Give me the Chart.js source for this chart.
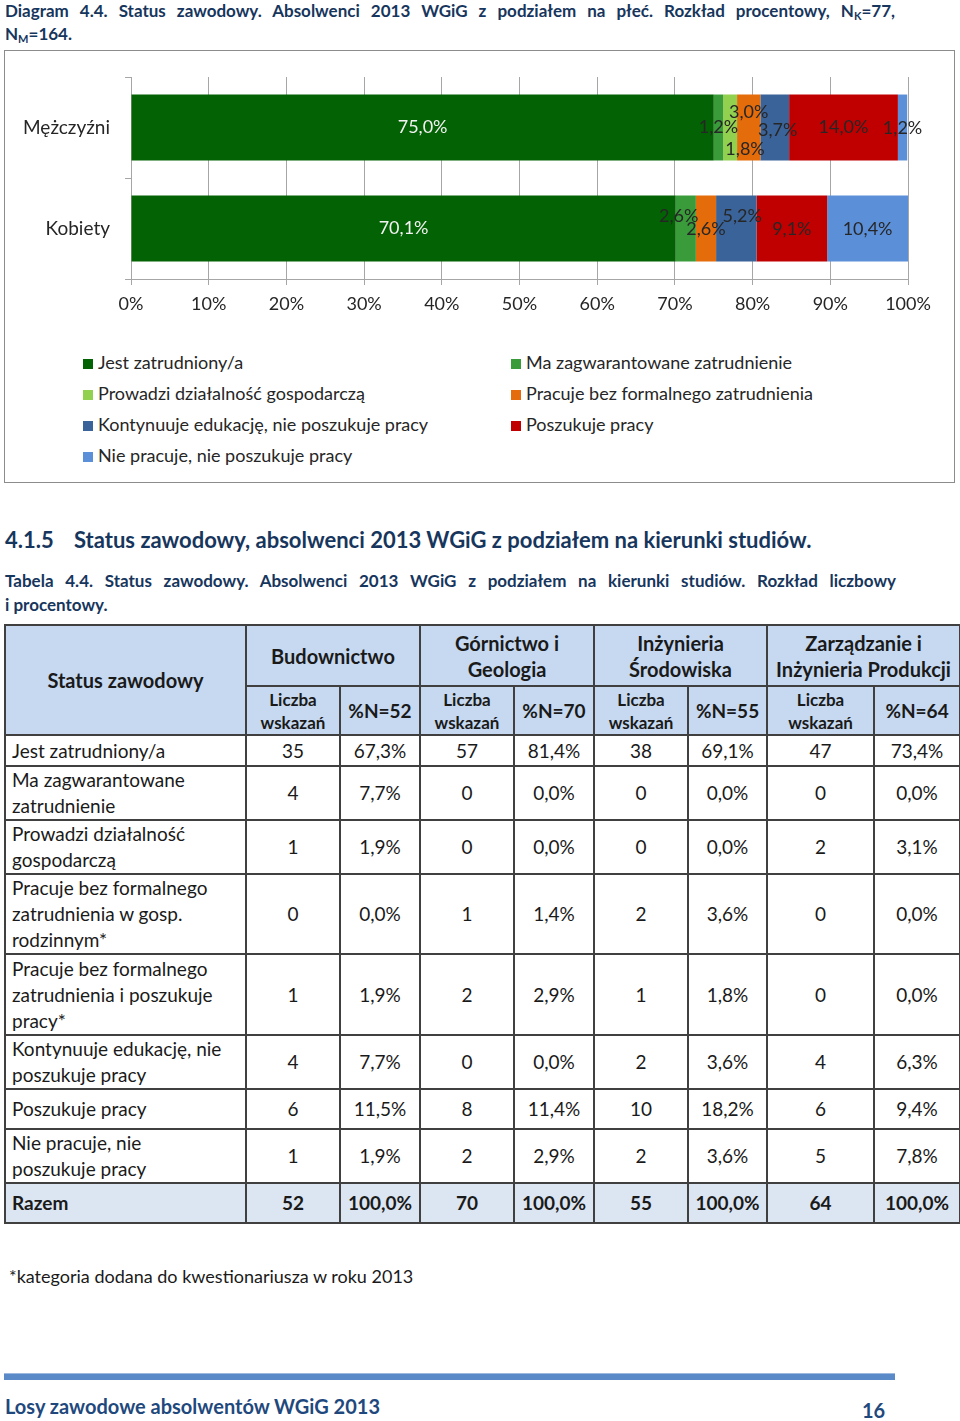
<!DOCTYPE html>
<html lang="pl">
<head>
<meta charset="utf-8">
<script src="https://cdn.jsdelivr.net/npm/chart.js@4.4.1/dist/chart.umd.min.js"></script>
<style>
  body { margin: 0; width: 960px; height: 1421px; position: relative; background: #fff; font-family: Lato, "Open Sans", sans-serif; color: #1a1a1a; overflow: hidden; }
  .abs { position: absolute; }
  .navy { color: #17365D; font-weight: bold; }
  .just { text-align: justify; text-align-last: justify; }
  sub { font-size: 11px; vertical-align: -3px; line-height: 0; }
  #chartBox { left: 4px; top: 50px; width: 949px; height: 431px; border: 1px solid #8C8C8C; }
  #chart { left: 0; top: 50px; }
  #legend { left: 83px; top: 347px; display: grid; grid-template-columns: 428px auto; font-size: 18px; color: #262626; }
  #legend div { height: 31px; line-height: 31px; white-space: nowrap; }
  #legend span.box { display: inline-block; width: 10px; height: 10px; margin-right: 5px; vertical-align: 0px; }
  table { border-collapse: collapse; table-layout: fixed; font-size: 19px; }
  td, th { border: 2px solid #404040; padding: 0 6px; text-align: center; line-height: 26px; }
  th { background: #C6D9F1; font-weight: bold; }
  td.name { text-align: left; }
  tr.sum td { background: #DCE6F2; font-weight: bold; }
  th.small { font-size: 17px; line-height: 23px; padding: 0 2px; }
</style>
</head>
<body>
<div class="abs navy" style="left:5px; top:-1px; width:890px; font-size:17px; line-height:23px;">
  <div class="just">Diagram 4.4. Status zawodowy. Absolwenci 2013 WGiG z podziałem na płeć. Rozkład procentowy, N<sub>K</sub>=77,</div>
  <div>N<sub>M</sub>=164.</div>
</div>

<div id="chartBox" class="abs"></div>
<canvas id="chart" class="abs" width="960" height="290"></canvas>
<div id="legend" class="abs"></div>

<div class="abs navy" style="left:5px; top:527px; font-size:22px; line-height:26px;">4.1.5</div>
<div class="abs navy" style="left:74px; top:527px; font-size:22px; line-height:26px;">Status zawodowy, absolwenci 2013 WGiG z podziałem na kierunki studiów.</div>

<div class="abs navy" style="left:5px; top:569px; width:891px; font-size:17px; line-height:24px;">
  <div class="just">Tabela 4.4. Status zawodowy. Absolwenci 2013 WGiG z podziałem na kierunki studiów. Rozkład liczbowy</div>
  <div>i procentowy.</div>
</div>

<table id="tbl" class="abs" style="left:4px; top:624px; width:955px;"></table>

<div class="abs" style="left:9px; top:1264px; font-size:18px; line-height:24px; color:#1a1a1a;">*kategoria dodana do kwestionariusza w roku 2013</div>

<div class="abs" style="left:4px; top:1373px; width:891px; height:6px; background:#5B8AC8; border-top:1px solid #9DB9E0;"></div>
<div class="abs navy" style="left:5px; top:1393px; font-size:20px; line-height:26px; color:#1F497D;">Losy zawodowe absolwentów WGiG 2013</div>
<div class="abs navy" style="left:862px; top:1397px; font-size:20px; line-height:26px; color:#1F497D;">16</div>

<script>
// Diagram 4.4 - status by gender (percent)
const genders = ['Mężczyźni', 'Kobiety'];
const statusNames = [
    'Jest zatrudniony/a',
    'Ma zagwarantowane zatrudnienie',
    'Prowadzi działalność gospodarczą',
    'Pracuje bez formalnego zatrudnienia',
    'Kontynuuje edukację, nie poszukuje pracy',
    'Poszukuje pracy',
    'Nie pracuje, nie poszukuje pracy',
];
const zatrudniony = [75.0, 70.1];
const zagwarantowane = [1.2, 2.6];
const dzialalnosc = [1.8, 0];
const bezFormalnego = [3.0, 2.6];
const edukacja = [3.7, 5.2];
const poszukuje = [14.0, 9.1];
const niePracuje = [1.2, 10.4];
const xTicks = [0, 10, 20, 30, 40, 50, 60, 70, 80, 90, 100];

// Tabela 4.4 - status by field of study
const fields = ['Budownictwo', 'Górnictwo i<br>Geologia', 'Inżynieria<br>Środowiska', 'Zarządzanie i<br>Inżynieria Produkcji'];
const fieldN = [52, 70, 55, 64];
const tableRows = [
    'Jest zatrudniony/a',
    'Ma zagwarantowane<br>zatrudnienie',
    'Prowadzi działalność<br>gospodarczą',
    'Pracuje bez formalnego<br>zatrudnienia w gosp.<br>rodzinnym*',
    'Pracuje bez formalnego<br>zatrudnienia i poszukuje<br>pracy*',
    'Kontynuuje edukację, nie<br>poszukuje pracy',
    'Poszukuje pracy',
    'Nie pracuje, nie<br>poszukuje pracy',
];
const budCount = [35, 4, 1, 0, 1, 4, 6, 1];
const budPct = [67.3, 7.7, 1.9, 0.0, 1.9, 7.7, 11.5, 1.9];
const gorCount = [57, 0, 0, 1, 2, 0, 8, 2];
const gorPct = [81.4, 0.0, 0.0, 1.4, 2.9, 0.0, 11.4, 2.9];
const inzCount = [38, 0, 0, 2, 1, 2, 10, 2];
const inzPct = [69.1, 0.0, 0.0, 3.6, 1.8, 3.6, 18.2, 3.6];
const zarCount = [47, 0, 2, 0, 0, 4, 6, 5];
const zarPct = [73.4, 0.0, 3.1, 0.0, 0.0, 6.3, 9.4, 7.8];

const fmt = v => v.toFixed(1).replace('.', ',') + '%';
const FONT = 'Lato';

const colors = ['#036203', '#3A9B3A', '#92D050', '#E46C0A', '#3A6399', '#C00000', '#5B8FD8'];
const series = [zatrudniony, zagwarantowane, dzialalnosc, bezFormalnego, edukacja, poszukuje, niePracuje];

// nudges for the small labels, like in the original
const labelShift = [
    [[0, 0], [0, 0]],
    [[0, 0], [-7, -12]],
    [[15, 22], [0, 0]],
    [[0, -15], [0, 1]],
    [[3, 3], [6, -12]],
    [[0, 0], [0, 1]],
    [[0, 1], [0, 1]],
];

const segmentLabels = {
    id: 'segmentLabels',
    afterDatasetsDraw(chart) {
        const ctx = chart.ctx;
        ctx.save();
        ctx.font = '18px ' + FONT;
        ctx.textAlign = 'center';
        ctx.textBaseline = 'middle';
        chart.data.datasets.forEach((ds, i) => {
            chart.getDatasetMeta(i).data.forEach((bar, j) => {
                const v = ds.data[j];
                if (!v) return;
                const s = labelShift[i][j];
                ctx.fillStyle = i === 0 ? '#F2F2F2' : '#262626';
                ctx.fillText(fmt(v), (bar.x + bar.base) / 2 + s[0], bar.y + s[1]);
            });
        });
        ctx.restore();
    }
};

const data = {
    labels: genders,
    datasets: statusNames.map((name, i) => ({
        label: name,
        data: series[i],
        backgroundColor: colors[i],
        borderWidth: 0
    }))
};

const config = {
    type: 'bar',
    data: data,
    plugins: [segmentLabels],
    options: {
        indexAxis: 'y',
        responsive: false,
        animation: false,
        layout: {
            padding: { left: 0, right: 52, top: 27, bottom: 0 }
        },
        datasets: {
            bar: { categoryPercentage: 0.653, barPercentage: 1 }
        },
        plugins: {
            legend: { display: false },
            tooltip: { enabled: false }
        },
        scales: {
            x: {
                stacked: true,
                min: 0,
                max: 100,
                afterBuildTicks: s => { s.ticks = xTicks.map(v => ({ value: v })); },
                afterFit: s => { s.height = 61; },
                ticks: {
                    callback: v => v + '%',
                    color: '#262626',
                    font: { family: FONT, size: 18 },
                    padding: 8
                },
                grid: { color: '#A6A6A6', tickLength: 6 },
                border: { color: '#A6A6A6' }
            },
            y: {
                stacked: true,
                afterFit: s => { s.width = 131; },
                ticks: {
                    color: '#262626',
                    font: { family: FONT, size: 19 },
                    padding: 15
                },
                grid: { drawOnChartArea: false, color: '#A6A6A6', tickLength: 6 },
                border: { color: '#A6A6A6' }
            }
        }
    }
};

const statusChart = new Chart(document.getElementById('chart'), config);

// legend, two columns
document.getElementById('legend').innerHTML = statusChart.data.datasets.map(ds =>
    '<div><span class="box" style="background:' + ds.backgroundColor + '"></span>' + ds.label + '</div>'
).join('');

// table
const counts = [budCount, gorCount, inzCount, zarCount];
const pcts = [budPct, gorPct, inzPct, zarPct];
const colW = [241, 94, 80, 94, 80, 94, 79, 107, 86];
const rowH = [31, 54, 53, 80, 81, 54, 40, 54];

let html = '<colgroup>' + colW.map(w => '<col style="width:' + w + 'px">').join('') + '</colgroup>';
html += '<tr style="height:61px"><th rowspan="2" style="font-size:20px">Status zawodowy</th>' +
    fields.map(f => '<th colspan="2" style="font-size:20px;line-height:26px;padding:0 2px">' + f + '</th>').join('') + '</tr>';
html += '<tr style="height:49px">' +
    fieldN.map(n => '<th class="small">Liczba<br>wskazań</th><th style="font-size:19px;padding:0 2px">%N=' + n + '</th>').join('') + '</tr>';
tableRows.forEach((name, r) => {
    html += '<tr style="height:' + rowH[r] + 'px"><td class="name">' + name + '</td>';
    for (let f = 0; f < 4; f++) {
        html += '<td>' + counts[f][r] + '</td><td>' + fmt(pcts[f][r]) + '</td>';
    }
    html += '</tr>';
});
html += '<tr class="sum" style="height:40px"><td class="name">Razem</td>';
for (let f = 0; f < 4; f++) {
    const total = counts[f].reduce((a, b) => a + b, 0);
    html += '<td>' + total + '</td><td>' + fmt(100) + '</td>';
}
html += '</tr>';
document.getElementById('tbl').innerHTML = html;
</script>
</body>
</html>
